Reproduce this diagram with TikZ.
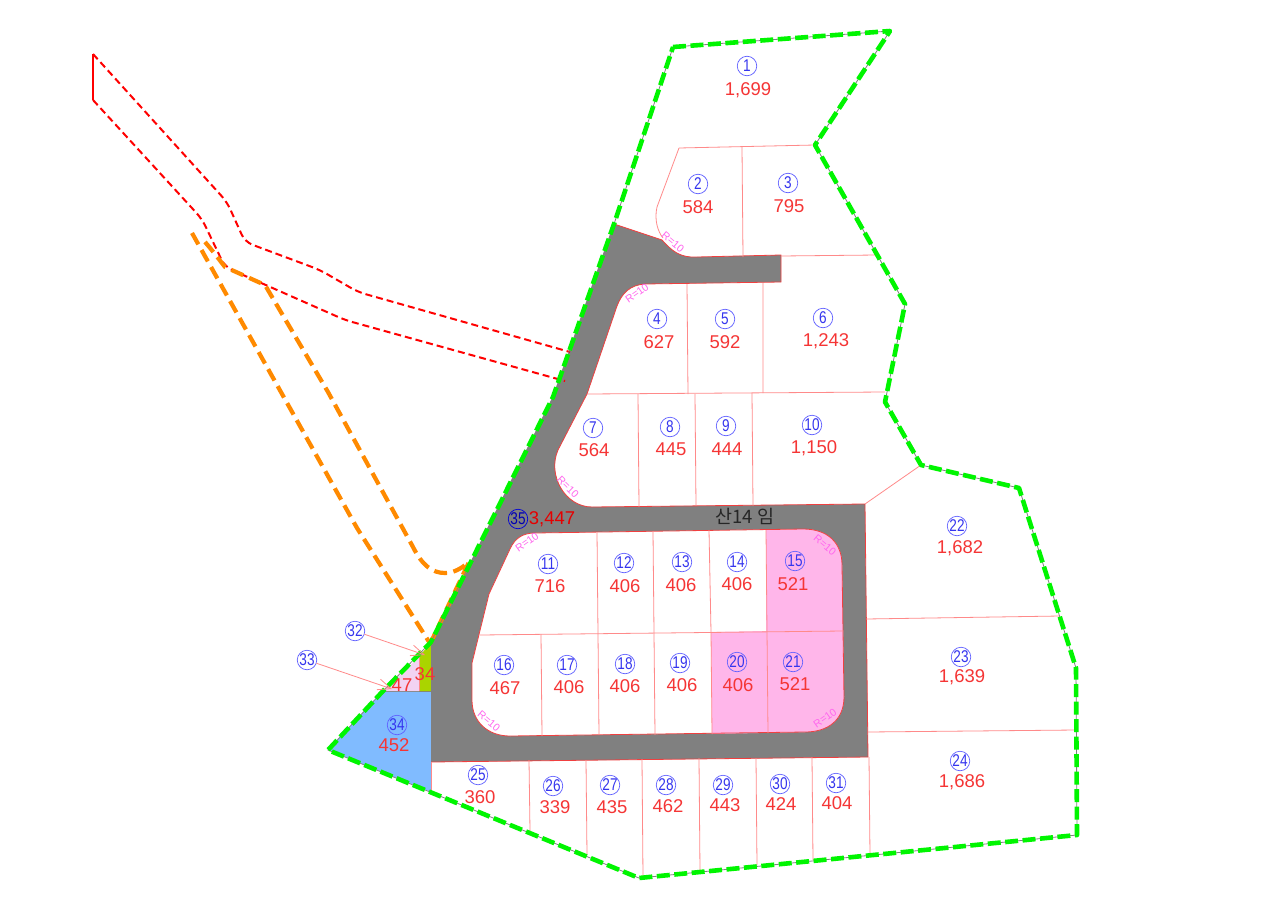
\documentclass[tikz,border=0pt]{standalone}
\usepackage{fontspec}
\setmainfont{Liberation Sans}
\newfontfamily\krfont{Noto Sans CJK KR}
\usetikzlibrary{arrows.meta}
\definecolor{lotline}{HTML}{FF8A8A}
\definecolor{roadedge}{HTML}{F04040}
\definecolor{roadgray}{HTML}{808080}
\definecolor{lotpink}{HTML}{FFB6EA}
\definecolor{lotblue}{HTML}{80BBFF}
\definecolor{lotolive}{HTML}{AAD400}
\definecolor{lotlilac}{HTML}{F2D2F2}
\definecolor{numred}{HTML}{F53535}
\definecolor{ringblue}{HTML}{6060FF}
\definecolor{ringtext}{HTML}{3535EE}
\definecolor{magentatxt}{HTML}{FF66EE}
\definecolor{bndgreen}{HTML}{00F500}
\definecolor{bndorange}{HTML}{FF8A00}
\tikzset{
  lot/.style={draw=lotline,line width=0.8pt},
  roadline/.style={draw=roadedge,line width=0.8pt},
  ring/.style={circle,draw=ringblue,line width=0.7pt,minimum size=19.5pt,inner sep=0pt,text=ringtext,font=\fontsize{17}{17}\selectfont},
  area/.style={inner sep=0pt,text=numred,yshift=-0.8pt,font=\fontsize{18.5}{18.5}\selectfont},
  radius/.style={inner sep=0pt,text=magentatxt,font=\fontsize{10.5}{10.5}\selectfont},
  greenb/.style={draw=bndgreen,line width=4.6pt,dash pattern=on 13pt off 4.5pt,line join=round},
  orangeb/.style={draw=bndorange,line width=4.2pt,dash pattern=on 13pt off 6.5pt},
  redb/.style={draw=red,line width=2pt,dash pattern=on 7pt off 4pt,rounded corners=8pt},
  leader/.style={draw=lotline,line width=0.8pt,-{Straight Barb[length=13pt,width=11pt]}}
}
\begin{document}
\begin{tikzpicture}[x=1pt,y=-1pt]
\useasboundingbox (0,0) rectangle (1280,905);
\fill[white] (0,0) rectangle (1280,905);
% coloured lots
\fill[lotblue] (328,750)--(383,691)--(431,691)--(431,792)--cycle;
\draw[roadgray,line width=0.8pt] (383,691)--(431,691)--(431,792);
\fill[lotlilac] (383,691)--(419,657)--(419,691)--cycle;
\fill[lotolive] (419,657)--(431,642)--(431,691)--(419,691)--cycle;
\draw[roadedge,line width=0.8pt] (431,642)--(431,691);
\draw[lotline,line width=0.8pt] (419,657)--(419,691);
% road
\fill[roadgray] (614,224)--(662,240) .. controls (672,251) and (680,258) .. (697,257)
  --(781,255)--(781,282)--(645,284) .. controls (630,285) and (622,293) .. (617,306)
  --(587,394)--(558,450) .. controls (547,475) and (565,507) .. (592,507)
  --(865,504)--(868,757)--(431,762)--(431,642)--(553,397)--cycle;
\draw[roadline] (614,224)--(662,240) .. controls (672,251) and (680,258) .. (697,257)
  --(781,255)--(781,282)--(645,284) .. controls (630,285) and (622,293) .. (617,306)
  --(587,394)--(558,450) .. controls (547,475) and (565,507) .. (592,507)
  --(865,504)--(868,757)--(431,762);
% central block
\fill[white] (535,533)--(803,529) .. controls (828,529) and (842,543) .. (842,565)
  --(844,697) .. controls (844,720) and (828,732) .. (805,732)
  --(510,736) .. controls (488,736) and (472,722) .. (472,700)
  --(472,663)--(489,594)--(510,549) .. controls (515,538) and (523,533) .. (535,533)--cycle;
\fill[lotpink] (766,530)--(803,529) .. controls (828,529) and (842,543) .. (842,565)
  --(844,697) .. controls (844,720) and (828,732) .. (805,732)
  --(712,734)--(711,632)--(766,631)--cycle;
\draw[roadline] (535,533)--(803,529) .. controls (828,529) and (842,543) .. (842,565)
  --(844,697) .. controls (844,720) and (828,732) .. (805,732)
  --(510,736) .. controls (488,736) and (472,722) .. (472,700)
  --(472,663)--(489,594)--(510,549) .. controls (515,538) and (523,533) .. (535,533)--cycle;
% lot lines
\draw[lot] (597,532)--(598,634) (653,531)--(654,633) (709,530)--(711,632) (766,530)--(767,631);
\draw[lot] (480,635)--(843,631);
\draw[lot] (541,634)--(542,736) (598,634)--(599,735) (654,633)--(655,735) (711,632)--(712,734) (767,631)--(768,733);
\draw[lot] (587,394)--(885,392);
\draw[lot] (638,394)--(639,507) (695,394)--(696,506) (752,393)--(753,506);
\draw[lot] (687,284)--(688,394) (763,283)--(763,393);
\draw[lot] (781,256)--(877,255);
\draw[lot] (679,148)--(815,145);
\draw[lot] (679,148)--(657,207) .. controls (654,220) and (658,232) .. (663,238);
\draw[lot] (742,147)--(743,257);
\draw[lot] (865,504)--(921,465);
\draw[lot] (866,619)--(1060,616) (868,732)--(1076,730) (869,757)--(870,855);
\draw[lot] (431,762)--(431,792);
\draw[lot] (529,760)--(530,831) (586,760)--(587,855) (642,759)--(643,877) (699,758)--(700,871) (756,758)--(757,865) (812,757)--(813,860);
% parcel outlines outside the site
\draw[red,line width=2pt] (93,54)--(93,100);
\draw[redb] (93,54)--(227,202)--(245,242)--(320,270)--(358,292)--(570,352);
\draw[redb] (93,100)--(202,219)--(225,267)--(345,320)--(565,381);
\draw[orangeb] (192,233)--(357,528)--(431,645);
\draw[orangeb] (205,242) .. controls (212,250) and (218,258) .. (225,267)--(265,285)--(328,392)--(413,547)
  .. controls (422,565) and (432,573) .. (445,573) .. controls (454,573) and (462,568) .. (469,562)--(431,642);
% site boundary
\draw[roadgray,line width=0.8pt] (673,47)--(890,31)--(815,145)--(905,304)--(885,402)--(921,465)--(1019,488)
  --(1076,668)--(1077,835)--(639,878)--(328,750)--(383,691)--(431,642)--(553,397)--(614,224)--cycle;
\draw[greenb] (673,47)--(890,31)--(815,145)--(905,304)--(885,402)--(921,465)--(1019,488)
  --(1076,668)--(1077,835)--(639,878)--(328,750)--(383,691)--(431,642)--(553,397)--(614,224)--cycle;
% lot labels
\foreach \n/\cx/\cy/\ax/\ay/\t in {
 1/747/66/748/89/{1,699}, 2/698/184/698/206/584, 3/788/183/789/205/795,
 4/657/319/659/341/627, 5/725/319/725/341/592, 6/823/318/826/340/{1,243},
 7/593/428/594/449/564, 8/670/427/671/448/445, 9/726/426/727/448/444,
 10/812/425/814/447/{1,150}, 11/548/564/550/585/716, 12/624/563/625/585/406,
 13/682/562/681/584/406, 14/737/562/737/583/406, 15/795/561/793/583/521,
 16/504/665/505/687/467, 17/567/665/569/686/406, 18/625/664/625/685/406,
 19/680/663/682/684/406, 20/737/662/738/684/406, 21/793/662/795/683/521,
 22/957/526/960/547/{1,682}, 23/961/657/962/676/{1,639}, 24/960/761/962/781/{1,686},
 25/478/775/480/796/360, 26/553/786/555/806/339, 27/610/785/612/806/435,
 28/666/785/668/805/462, 29/723/785/725/804/443, 30/780/784/781/803/424,
 31/836/783/837/802/404, 34/397/725/394/744/452}{
  \node[ring] (c\n) at (\cx,\cy) {\scalebox{0.8}[1]{\n}};
  \node[area] (a\n) at (\ax,\ay) {\t};
}
\node[ring] (c32) at (355,631) {\scalebox{0.8}[1]{32}};
\node[ring] (c33) at (307,660) {\scalebox{0.8}[1]{33}};
\node[area] (a32) at (425,673) {34};
\node[area] (a33) at (402,684) {47};
\node[ring,draw=blue!85!black,text=blue!70!black] (c35) at (518,519) {\scalebox{0.8}[1]{35}};
\node[area,text=red!90!black] (a35) at (552,518) {3,447};
\node[inner sep=0pt,font=\krfont\fontsize{18.5}{18.5}\selectfont,text=black!85] (forest) at (745,516) {산14 임};
% leaders
\coordinate (t32) at (425,655);
\coordinate (t33) at (392,689);
\draw[leader] (c32)--(t32);
\draw[leader] (c33)--(t33);
% radius notes
\node[radius,rotate=-40] (r1) at (673,242) {R=10};
\node[radius,rotate=35] (r2) at (637,293) {R=10};
\node[radius,rotate=-45] (r3) at (568,487) {R=10};
\node[radius,rotate=35] (r4) at (527,542) {R=10};
\node[radius,rotate=-40] (r5) at (825,545) {R=10};
\node[radius,rotate=-40] (r6) at (489,721) {R=10};
\node[radius,rotate=35] (r7) at (825,718) {R=10};
\end{tikzpicture}
\end{document}
